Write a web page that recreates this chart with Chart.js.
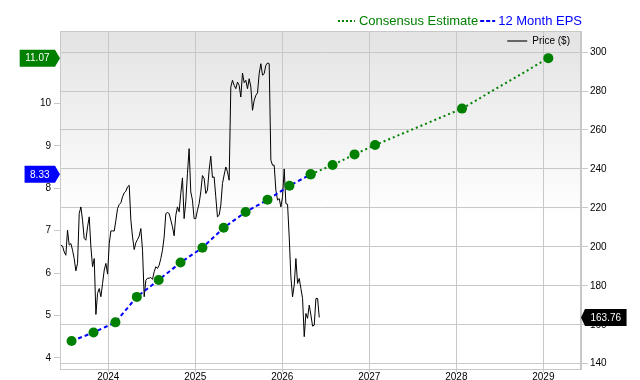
<!DOCTYPE html>
<html>
<head>
<meta charset="utf-8">
<script src="https://cdn.jsdelivr.net/npm/chart.js@4.4.1/dist/chart.umd.min.js"></script>
<style>
  html, body { margin: 0; padding: 0; background: #fff; }
  #wrap { width: 640px; height: 380px; position: relative; }
</style>
</head>
<body>
<div id="wrap"><canvas id="myChart" width="640" height="380"></canvas></div>
<script>
// weekly closing price, first week below
let priceStart = "2023-06-16";
let priceWeekly = [
  200.9, 200.4, 197.4, 195.7, 208.6, 200.9, 201.7, 198.3, 194.0, 187.7,
  191.5, 217.1, 220.5, 213.7, 204.3, 203.4, 210.3, 215.4, 200.0, 189.8,
  194.0, 165.3, 176.1, 178.6, 174.4, 181.2, 188.1, 191.5, 186.0, 201.7,
  208.2, 208.2, 208.1, 213.7, 219.7, 221.7, 222.6, 225.7, 227.7, 228.6,
  230.8, 231.6, 213.7, 205.1, 198.6, 202.1, 203.8, 205.5, 209.4, 198.3,
  174.4, 182.9, 183.9, 183.9, 184.3, 183.3, 187.2, 189.8, 188.9, 190.6,
  194.0, 198.3, 205.1, 217.1, 217.6, 217.1, 213.7, 210.3, 205.7, 216.2,
  220.5, 218.0, 227.4, 235.4, 214.5, 223.1, 237.6, 250.4, 228.2, 224.0,
  214.5, 214.5, 218.8, 222.2, 228.2, 236.6, 235.1, 227.4, 229.1, 239.3,
  246.5, 235.6, 235.9, 225.7, 215.4, 216.2, 221.4, 232.5, 236.9, 241.0,
  238.5, 234.2, 282.1, 285.5, 282.9, 281.2, 284.6, 282.9, 276.9, 289.2,
  284.3, 285.5, 281.2, 286.3, 282.1, 270.1, 275.2, 277.8, 279.0, 288.9,
  294.0, 288.1, 288.9, 293.2, 294.4, 294.0, 244.5, 241.9, 241.9, 229.1,
  224.0, 224.8, 220.5, 225.7, 240.0, 222.2, 221.9, 205.1, 184.6, 174.4,
  180.4, 194.0, 181.2, 183.8, 178.6, 173.5, 153.9, 165.8, 163.3, 170.1,
  165.0, 159.3, 159.8, 173.5, 173.5, 163.76
];

// 12 month EPS (reported)
let epsDates = ["2023-07-31", "2023-10-31", "2024-01-31", "2024-04-30", "2024-07-31", "2024-10-31",
                "2025-01-31", "2025-04-30", "2025-07-31", "2025-10-31", "2026-01-31", "2026-04-30"];
let epsValues = [4.40, 4.60, 4.84, 5.44, 5.84, 6.25, 6.60, 7.07, 7.44, 7.73, 8.06, 8.33];

// consensus estimate
let consDates = ["2026-04-30", "2026-07-31", "2026-10-31", "2027-01-25", "2028-01-25", "2029-01-22"];
let consValues = [8.33, 8.55, 8.80, 9.02, 9.88, 11.07];

let xTicks = [2024, 2025, 2026, 2027, 2028, 2029];
let epsTicks = [4, 5, 6, 7, 8, 9, 10];
let priceTicks = [140, 160, 180, 200, 220, 240, 260, 280, 300];

let lastPrice = 163.76, lastEps = 8.33, lastCons = 11.07;

const GREEN = "#008000", BLUE = "#0000ff", FONT = "'Liberation Sans', Arial, sans-serif";

function toYear(s) {
    let d = new Date(s + "T00:00:00Z"),
        y = d.getUTCFullYear(),
        a = Date.UTC(y, 0, 1),
        b = Date.UTC(y + 1, 0, 1);
    return y + (d.getTime() - a) / (b - a);
}

function weekYear(i) {
    let d = new Date(priceStart + "T00:00:00Z");
    d.setUTCDate(d.getUTCDate() + i * 7);
    return toYear(d.toISOString().slice(0, 10));
}

let priceData = priceWeekly.map((v, i) => ({ x: weekYear(i), y: v }));
let epsData = epsDates.map((d, i) => ({ x: toYear(d), y: epsValues[i] }));
let consData = consDates.map((d, i) => ({ x: toYear(d), y: consValues[i] }));

// background gradient + border of the plot area
const bgPlugin = {
    id: "bg",
    beforeDraw(chart) {
        let c = chart.ctx, a = chart.chartArea;
        let g = c.createLinearGradient(0, a.top, 0, a.bottom);
        g.addColorStop(0, "#e3e3e3");
        g.addColorStop(0.55, "#ffffff");
        g.addColorStop(1, "#ffffff");
        c.save();
        c.fillStyle = g;
        c.fillRect(a.left, a.top, a.right - a.left, a.bottom - a.top);
        c.restore();
    },
    afterDraw(chart) {
        let c = chart.ctx, a = chart.chartArea;
        c.save();
        c.strokeStyle = "#c8c8c8";
        c.lineWidth = 1;
        c.strokeRect(a.left + 0.5, a.top + 0.5, a.right - a.left - 1, a.bottom - a.top);
        c.restore();
    }
};

function drawTag(c, text, y, side, color, x) {
    c.font = "10px " + FONT;
    let w = c.measureText(text).width + 11, h = 17;
    c.fillStyle = color;
    c.beginPath();
    if (side == "left") {
        c.moveTo(x, y);
        c.lineTo(x - 5, y - h / 2);
        c.lineTo(x - 5 - w, y - h / 2);
        c.lineTo(x - 5 - w, y + h / 2);
        c.lineTo(x - 5, y + h / 2);
    } else {
        c.moveTo(x, y);
        c.lineTo(x + 4, y - h / 2);
        c.lineTo(x + 4 + w, y - h / 2);
        c.lineTo(x + 4 + w, y + h / 2);
        c.lineTo(x + 4, y + h / 2);
    }
    c.closePath();
    c.fill();
    c.fillStyle = "#fff";
    c.textBaseline = "middle";
    c.textAlign = "center";
    let cx = side == "left" ? x - 5 - w / 2 : x + 4 + w / 2;
    c.fillText(text, cx, y + 0.5);
}

// legends and value tags
const tagPlugin = {
    id: "tags",
    afterDraw(chart) {
        let c = chart.ctx, a = chart.chartArea,
            yl = chart.scales.yEps, yr = chart.scales.yPrice;
        c.save();
        drawTag(c, lastCons.toFixed(2), yl.getPixelForValue(lastCons), "left", GREEN, a.left);
        drawTag(c, lastEps.toFixed(2), yl.getPixelForValue(lastEps), "left", BLUE, a.left);
        drawTag(c, lastPrice.toFixed(2), yr.getPixelForValue(lastPrice), "right", "#000", a.right);

        // top legend
        c.font = "13px " + FONT;
        c.textBaseline = "middle";
        c.textAlign = "left";
        let ly = 21;
        let t2 = "12 Month EPS", t1 = "Consensus Estimate";
        let w2 = c.measureText(t2).width, w1 = c.measureText(t1).width;
        let x2 = a.right + 1 - w2;
        c.fillStyle = BLUE;
        c.fillText(t2, x2, ly);
        c.strokeStyle = BLUE;
        c.lineWidth = 2;
        c.setLineDash([4, 2]);
        c.beginPath(); c.moveTo(x2 - 18, ly); c.lineTo(x2 - 3, ly); c.stroke();
        let x1 = x2 - 20 - w1;
        c.fillStyle = GREEN;
        c.fillText(t1, x1, ly);
        c.strokeStyle = GREEN;
        c.setLineDash([2, 2]);
        c.beginPath(); c.moveTo(x1 - 21, ly); c.lineTo(x1 - 4, ly); c.stroke();
        c.setLineDash([]);

        // price legend inside the plot
        c.font = "10px " + FONT;
        c.fillStyle = "#000";
        let pt = "Price ($)", pw = c.measureText(pt).width;
        let px = a.right - 11 - pw;
        c.fillText(pt, px, 41);
        c.strokeStyle = "#666";
        c.lineWidth = 2;
        c.beginPath(); c.moveTo(px - 25, 41); c.lineTo(px - 5, 41); c.stroke();
        c.restore();
    }
};

function fixWidth(w) {
    return function (scale) { scale.width = w; };
}

let ctx = document.getElementById("myChart");
let myChart = new Chart(ctx, {
    type: "line",
    data: {
        datasets: [
            {
                label: "Consensus Estimate",
                data: consData,
                yAxisID: "yEps",
                borderColor: GREEN,
                borderWidth: 2,
                borderDash: [2, 3],
                pointRadius: 5,
                pointBackgroundColor: GREEN,
                pointBorderWidth: 0,
                tension: 0
            },
            {
                label: "12 Month EPS",
                data: epsData,
                yAxisID: "yEps",
                borderColor: BLUE,
                borderWidth: 2,
                borderDash: [4, 3],
                pointRadius: 5,
                pointBackgroundColor: GREEN,
                pointBorderWidth: 0,
                tension: 0
            },
            {
                label: "Price ($)",
                data: priceData,
                yAxisID: "yPrice",
                borderColor: "#000",
                borderWidth: 1,
                pointRadius: 0,
                tension: 0
            }
        ]
    },
    options: {
        responsive: false,
        animation: false,
        events: [],
        layout: { padding: { top: 31, left: 0, right: 0, bottom: 0 } },
        plugins: { legend: { display: false }, tooltip: { enabled: false } },
        scales: {
            x: {
                type: "linear",
                min: 2023.445,
                max: 2029.433,
                afterBuildTicks: s => { s.ticks = xTicks.map(v => ({ value: v })); },
                afterFit: s => { s.height = 11; },
                grid: { color: "#c8c8c8", tickLength: 3, drawTicks: true },
                border: { color: "#c8c8c8" },
                ticks: { color: "#000", font: { size: 10, family: FONT }, padding: -1, maxRotation: 0,
                         callback: v => String(v) }
            },
            yEps: {
                type: "linear",
                position: "left",
                min: 3.74,
                max: 11.71,
                afterBuildTicks: s => { s.ticks = epsTicks.map(v => ({ value: v })); },
                afterFit: fixWidth(60),
                grid: { drawOnChartArea: false, color: "#c8c8c8", tickLength: 6 },
                border: { color: "#c8c8c8" },
                ticks: { color: "#000", font: { size: 10, family: FONT }, padding: 3 }
            },
            yPrice: {
                type: "linear",
                position: "right",
                min: 137.3,
                max: 310.8,
                afterBuildTicks: s => { s.ticks = priceTicks.map(v => ({ value: v })); },
                afterFit: fixWidth(59),
                grid: { color: "#c8c8c8", tickLength: 7 },
                border: { color: "#c8c8c8" },
                ticks: { color: "#000", font: { size: 10, family: FONT }, padding: 2 }
            }
        }
    },
    plugins: [bgPlugin, tagPlugin]
});
</script>
</body>
</html>
